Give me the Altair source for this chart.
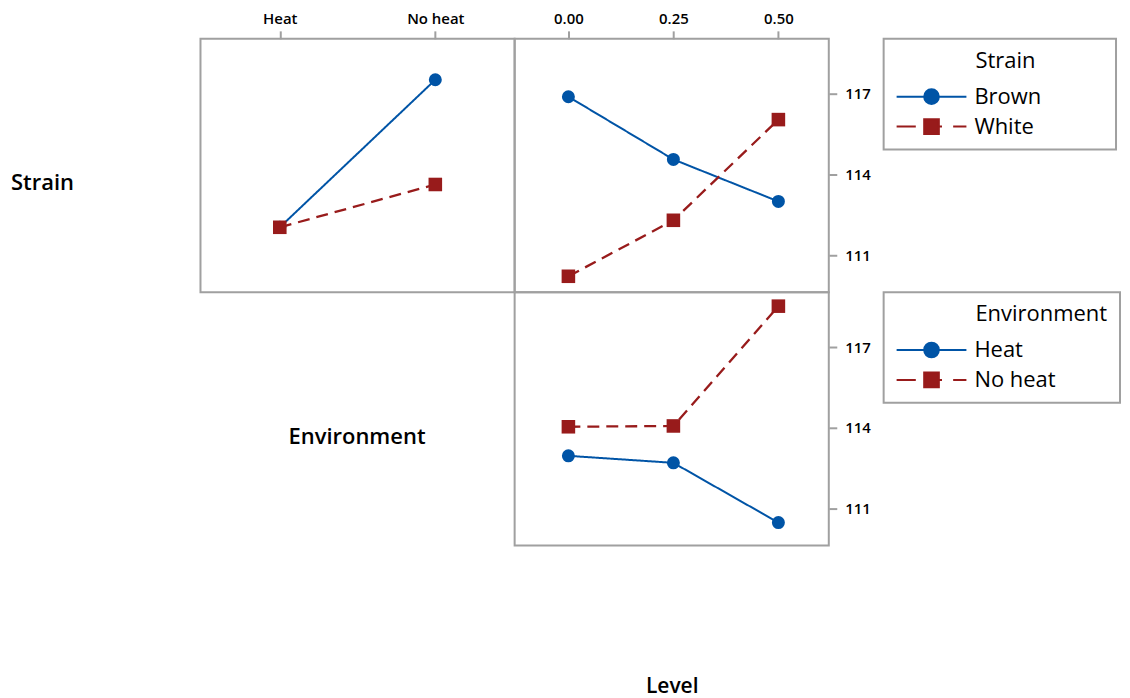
import altair as alt
import pandas as pd

# ---------------- data ----------------
strain_levels = ["Brown", "White"]
env_levels = ["Heat", "No heat"]
level_values = [0.0, 0.25, 0.5]
level_ticks = [0.0, 0.25, 0.5]
y_ticks = [111, 114, 117]

# Strain x Environment means (x = Environment)
se_brown = [112.04, 117.52]
se_white = [112.04, 113.63]
# Strain x Level means
sl_brown = [116.89, 114.56, 113.00]
sl_white = [110.22, 112.30, 116.04]
# Environment x Level means
el_heat = [112.96, 112.70, 110.48]
el_noheat = [114.04, 114.07, 118.52]

row_labels = ["Strain", "Environment"]
x_title = "Level"

# ---------------- style ----------------
BLUE = "#0054A6"
RED = "#981B1B"
GRAY = "#A0A0A0"
FONT = "Open Sans"
series_colors = [BLUE, RED]
dashes = [[1, 0], [12, 7]]
line_widths = [2, 2.3]
marker_shapes = ["circle", "square"]
marker_sizes = [170, 185]
legend_paths = [
    "M-1,0L1,0M-0.21,0A0.21,0.21,0,1,0,0.21,0A0.21,0.21,0,1,0,-0.21,0Z",
    "M-1,0L-0.45,0M-0.21,-0.21L0.21,-0.21L0.21,0.21L-0.21,0.21ZM0.21,0L0.3,0M0.62,0L1,0",
]
Y_DOMAIN = [109.63, 119.04]
X_DOMAIN = [-0.128, 0.62]
PW, PH = 315, 254
ZW = "\u200b"
NB = "\u00a0"
legend_titles = {
    "Strain": ZW + NB * 14 + "Strain" + NB * 12 + ZW,
    "Environment": ZW + NB * 14 + "Environment" + ZW,
}


def make_df(xname, xvals, sname, series):
    rows = []
    for lvl, vals in series:
        for xv, v in zip(xvals, vals):
            rows.append({xname: xv, sname: lvl, "Response": v})
    return pd.DataFrame(rows)


df_se = make_df("Environment", env_levels, "Strain",
                [(strain_levels[0], se_brown), (strain_levels[1], se_white)])
df_sl = make_df("Level", level_values, "Strain",
                [(strain_levels[0], sl_brown), (strain_levels[1], sl_white)])
df_el = make_df("Level", level_values, "Environment",
                [(env_levels[0], el_heat), (env_levels[1], el_noheat)])

tick_common = dict(domain=False, grid=False, tickSize=8, tickColor=GRAY, tickWidth=2,
                   labelFontSize=15, labelFontWeight=600, labelColor="black", labelFont=FONT)

top_axis_cat = alt.Axis(orient="top", title=None, labelPadding=4, labelAngle=0,
                        minExtent=29, **tick_common)
top_axis_num = alt.Axis(orient="top", title=None, labelPadding=4, labelAngle=0,
                        minExtent=29, values=level_ticks, format=".2f", **tick_common)
right_axis = alt.Axis(orient="right", title=None, labelPadding=8, values=y_ticks,
                      **tick_common)
bottom_title_axis = alt.Axis(orient="bottom", title=x_title, labels=False, ticks=False,
                             domain=False, grid=False, titlePadding=130, titleFontSize=21,
                             titleFontWeight=600, titleColor="black", titleFont=FONT,
                             minExtent=0)

y_scale = alt.Scale(domain=Y_DOMAIN, nice=False, zero=False)
x_num_scale = alt.Scale(domain=X_DOMAIN, nice=False, zero=False)


def panel(df, x_enc, series_field, series_levels, y_axis, legend_title=None):
    y_enc = alt.Y("Response:Q", scale=y_scale, axis=y_axis)
    base = alt.Chart(df).encode(x=x_enc, y=y_enc)
    lines, points = [], []
    for lvl, col, dash, lw, shp, sz in zip(series_levels, series_colors, dashes, line_widths,
                                           marker_shapes, marker_sizes):
        sub = base.transform_filter(alt.datum[series_field] == lvl)
        lines.append(sub.mark_line(color=col, strokeDash=dash, strokeWidth=lw))
        points.append(sub.mark_point(shape=shp, filled=True, size=sz, opacity=1,
                                     color=col, strokeWidth=0))
    layers = lines + points
    if legend_title:
        leg = alt.Legend(
            title=legend_title, orient="right", offset=13, padding=12,
            strokeColor=GRAY, symbolSize=4900, symbolStrokeWidth=2, symbolOpacity=1,
            clipHeight=20, rowPadding=8, labelOffset=7, labelFontSize=22,
            labelFont=FONT, labelColor="black", labelLimit=400, titleFontSize=22,
            titleFontWeight="normal", titleFont=FONT, titleColor="black",
            titlePadding=14, titleLimit=500,
        )
        layers.append(
            base.transform_filter("false")
            .mark_point(filled=True, opacity=1, strokeWidth=2)
            .encode(
                fill=alt.Fill(f"{series_field}:N",
                              scale=alt.Scale(domain=series_levels, range=series_colors),
                              legend=leg),
                stroke=alt.Stroke(f"{series_field}:N",
                                  scale=alt.Scale(domain=series_levels, range=series_colors),
                                  legend=leg),
                shape=alt.Shape(f"{series_field}:N",
                                scale=alt.Scale(domain=series_levels, range=legend_paths),
                                legend=leg),
            )
        )
    return alt.layer(*layers).properties(width=PW, height=PH)


tl = panel(
    df_se,
    alt.X("Environment:N", scale=alt.Scale(type="point", domain=env_levels, padding=0.51),
          axis=top_axis_cat),
    "Strain", strain_levels, None,
)
tr = panel(
    df_sl,
    alt.X("Level:Q", scale=x_num_scale, axis=top_axis_num),
    "Strain", strain_levels, right_axis, legend_title=legend_titles["Strain"],
)
br = panel(
    df_el,
    alt.X("Level:Q", scale=x_num_scale, axis=bottom_title_axis),
    "Environment", env_levels, right_axis, legend_title=legend_titles["Environment"],
)

noview = alt.ViewBackground(stroke="transparent")
strain_lbl = alt.Chart(pd.DataFrame({"label": [row_labels[0]]})).mark_text(
    align="left", baseline="middle", fontSize=22, fontWeight=600, color="black", font=FONT
).encode(text="label:N", x=alt.value(2), y=alt.value(145)).properties(
    width=192, height=PH, view=noview)
blank = alt.Chart(pd.DataFrame({"label": [""]})).mark_text().encode(
    text="label:N", x=alt.value(0), y=alt.value(0)).properties(width=192, height=PH, view=noview)
env_lbl = alt.Chart(pd.DataFrame({"label": [row_labels[1]]})).mark_text(
    align="center", baseline="middle", fontSize=22, fontWeight=600, color="black", font=FONT
).encode(text="label:N", x=alt.value(157), y=alt.value(145)).properties(
    width=PW, height=PH, view=noview)

chart = (
    alt.concat(strain_lbl, tl, tr, blank, env_lbl, br, columns=3, spacing=0, bounds="flush")
    .resolve_scale(fill="independent", stroke="independent", shape="independent")
    .resolve_legend(fill="independent", stroke="independent", shape="independent")
    .properties(padding=0)
    .configure(font=FONT)
    .configure_view(stroke=GRAY, strokeWidth=2)
    .configure_legend(strokeWidth=2)
)

chart.save("out.html", embed_options={"renderer": "svg", "actions": False})
